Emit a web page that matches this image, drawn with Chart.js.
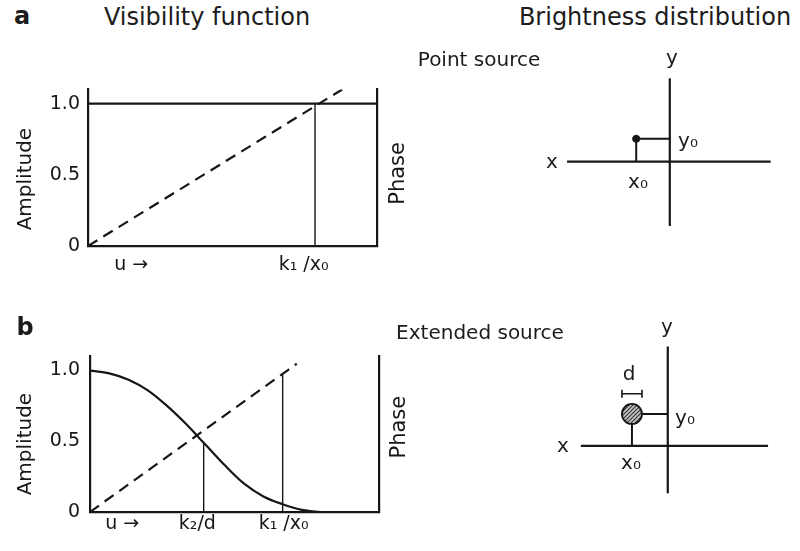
<!DOCTYPE html>
<html>
<head>
<meta charset="utf-8">
<title>Visibility function</title>
<script src="https://cdn.jsdelivr.net/npm/chart.js@4.4.1/dist/chart.umd.min.js"></script>
<style>
  html, body { margin: 0; padding: 0; background: #fff; }
  body { position: relative; width: 800px; height: 551px; overflow: hidden; font-family: 'DejaVu Sans', sans-serif; color: #1c1c1c; }
  canvas { position: absolute; }
  .lbl { position: absolute; white-space: nowrap; line-height: 1; transform: translate(-50%, -50%); }
</style>
</head>
<body>
<canvas id="visA" width="410" height="214" style="left:0;top:70px"></canvas>
<canvas id="visB" width="410" height="215" style="left:0;top:335px"></canvas>
<canvas id="srcA" width="250" height="210" style="left:540px;top:40px"></canvas>
<canvas id="srcB" width="250" height="210" style="left:538px;top:320px"></canvas>
<div id="labels"></div>
<script>
// (a) point source: amplitude flat, phase linear in u
const ampA_u = [0, 1.273];
const ampA = [1.0, 1.0];
const phaseA_u = [0, 1.12];
const phaseA = [0, 1.1];
const markA_u = [1.0];
const markA_top = [1.0];
const xLabelAtA = [0.19, 0.95];
const xLabelsA = ['u →', 'k₁ /x₀'];

// (b) extended source: amplitude falls off with u
const ampB_u = [0, 0.1, 0.2, 0.3, 0.4, 0.5, 0.6, 0.7, 0.8, 0.9, 1.0, 1.1, 1.2, 1.5];
const ampB = [1.0, 0.98, 0.935, 0.86, 0.75, 0.62, 0.475, 0.33, 0.2, 0.11, 0.055, 0.015, 0, 0];
const phaseB_u = [0, 1.073];
const phaseB = [0, 1.048];
const markB_u = [0.59, 1.0];
const markB_top = [0.49, 0.97];
const xLabelAtB = [0.167, 0.557, 1.005];
const xLabelsB = ['u →', 'k₂/d', 'k₁ /x₀'];

const yTicks = [0, 0.5, 1.0];
const yLabels = ['0', '0.5', '1.0'];

// brightness distribution sketches (x, y in arbitrary sky units)
const srcA_xAxis = [-10.7, 10.5];
const srcA_yAxis = [-6.75, 8.75];
const srcA_pos = [-3.5, 2.4];

const srcB_xAxis = [-9.1, 10.5];
const srcB_yAxis = [-5.0, 10.5];
const srcB_pos = [-3.75, 3.37];
const srcB_d = 2.1;
const srcB_dBarY = 5.5;

const INK = '#161616';
const FONT = "'DejaVu Sans', sans-serif";

const pts = (xs, ys) => xs.map((x, i) => ({ x, y: ys[i] }));

function line(data, width, dash) {
    return {
        data, showLine: true, borderColor: INK, borderWidth: width,
        borderDash: dash || [], pointRadius: 0, fill: false
    };
}

// rotated side titles, placed against the y scale
const sideTitles = {
    id: 'sideTitles',
    afterDraw(chart, args, o) {
        const { ctx } = chart;
        const y = chart.scales.y;
        ctx.save();
        ctx.fillStyle = INK;
        ctx.textAlign = 'center';
        ctx.textBaseline = 'middle';
        o.items.forEach(it => {
            ctx.save();
            ctx.font = it.size + 'px ' + FONT;
            ctx.translate(it.x, y.getPixelForValue(it.at));
            ctx.rotate(-Math.PI / 2);
            ctx.fillText(it.text, 0, 0);
            ctx.restore();
        });
        ctx.restore();
    }
};

function visibilityChart(id, o) {
    const datasets = [
        line(pts(o.ampU, o.amp), 2.2),
        line(pts(o.phaseU, o.phase), 2.2, [11, 7]),
        ...o.markU.map((u, i) => line(pts([u, u], [0, o.markTop[i]]), 1.4))
    ];
    return new Chart(document.getElementById(id), {
        type: 'scatter',
        data: { datasets },
        options: {
            responsive: false, animation: false,
            layout: { padding: { top: o.padTop, left: 0, right: 0, bottom: 0 } },
            plugins: {
                legend: { display: false }, tooltip: { enabled: false },
                sideTitles: { items: o.titles }
            },
            elements: { line: { cubicInterpolationMode: 'monotone' } },
            scales: {
                x: {
                    type: 'linear', min: 0, max: o.xMax,
                    grid: { display: false, drawTicks: false },
                    border: { color: INK, width: 2.2 },
                    ticks: {
                        color: INK, font: { family: FONT, size: 19 }, padding: o.xPad,
                        maxRotation: 0, autoSkip: false,
                        callback: (v, i) => o.xLabels[i]
                    },
                    afterBuildTicks: s => { s.ticks = o.xLabelAt.map(v => ({ value: v })); },
                    afterFit: s => { s.height = 38; }
                },
                y: {
                    type: 'linear', position: 'left', min: 0, max: 1.1,
                    grid: { display: false, drawTicks: false },
                    border: { color: INK, width: 2.2 },
                    ticks: {
                        color: INK, font: { family: FONT, size: 19 }, padding: o.yPad,
                        callback: (v, i) => yLabels[i]
                    },
                    afterBuildTicks: s => { s.ticks = yTicks.map(v => ({ value: v })); },
                    afterFit: s => { s.width = o.left; }
                },
                y2: {
                    type: 'linear', position: 'right', min: 0, max: 1.1,
                    grid: { display: false, drawTicks: false },
                    border: { color: INK, width: 2.2 },
                    ticks: { display: false },
                    afterFit: s => { s.width = o.right; }
                }
            }
        },
        plugins: [sideTitles]
    });
}

visibilityChart('visA', {
    ampU: ampA_u, amp: ampA, phaseU: phaseA_u, phase: phaseA,
    markU: markA_u, markTop: markA_top,
    xLabelAt: xLabelAtA, xLabels: xLabelsA,
    xMax: 1.273, padTop: 18, left: 88, right: 33, xPad: 8, yPad: 8,
    titles: [
        { text: 'Amplitude', x: 26, at: 0.47, size: 20 },
        { text: 'Phase', x: 399, at: 0.51, size: 21 }
    ]
});

visibilityChart('visB', {
    ampU: ampB_u, amp: ampB, phaseU: phaseB_u, phase: phaseB,
    markU: markB_u, markTop: markB_top,
    xLabelAt: xLabelAtB, xLabels: xLabelsB,
    xMax: 1.5, padTop: 17, left: 90, right: 31, xPad: 1, yPad: 10,
    titles: [
        { text: 'Amplitude', x: 26, at: 0.48, size: 20 },
        { text: 'Phase', x: 400, at: 0.6, size: 21 }
    ]
});

// hatched fill for the extended source disc
function hatch() {
    const c = document.createElement('canvas');
    c.width = c.height = 4;
    const g = c.getContext('2d');
    g.fillStyle = '#c4c4c4';
    g.fillRect(0, 0, 4, 4);
    g.strokeStyle = '#333';
    g.lineWidth = 1.1;
    g.beginPath();
    g.moveTo(0, 4); g.lineTo(4, 0);
    g.moveTo(-1, 1); g.lineTo(1, -1);
    g.moveTo(3, 5); g.lineTo(5, 3);
    g.stroke();
    return g.createPattern(c, 'repeat');
}

function skyChart(id, range, datasets) {
    return new Chart(document.getElementById(id), {
        type: 'scatter',
        data: { datasets },
        options: {
            responsive: false, animation: false,
            layout: { padding: 0 },
            plugins: { legend: { display: false }, tooltip: { enabled: false } },
            scales: {
                x: { type: 'linear', display: false, min: range[0], max: range[1] },
                y: { type: 'linear', display: false, min: range[2], max: range[3] }
            }
        }
    });
}

const [ax, ay] = srcA_pos;
skyChart('srcA', [-13, 12, -8.75, 12.25], [
    line(pts(srcA_xAxis, [0, 0]), 2.2),
    line(pts([0, 0], srcA_yAxis), 2.2),
    line(pts([ax, ax, 0], [0, ay, ay]), 2),
    { data: pts([ax], [ay]), pointRadius: 3.6, pointBackgroundColor: INK, pointBorderColor: INK, showLine: false }
]);

const [bx, by] = srcB_pos;
const r = srcB_d / 2;
skyChart('srcB', [-13, 12, -8.3, 12.7], [
    line(pts(srcB_xAxis, [0, 0]), 2.2),
    line(pts([0, 0], srcB_yAxis), 2.2),
    line(pts([bx, bx], [0, by - r]), 2),
    line(pts([bx + r, 0], [by, by]), 2),
    {
        data: pts([bx - r, bx + r], [srcB_dBarY, srcB_dBarY]), showLine: true,
        borderColor: INK, borderWidth: 1.6,
        pointStyle: 'line', rotation: 90, pointRadius: 4,
        pointBorderColor: INK, pointBorderWidth: 1.6
    },
    {
        data: pts([bx], [by]), showLine: false,
        pointRadius: c => {
            const s = c.chart.scales.x;
            return Math.abs(s.getPixelForValue(r) - s.getPixelForValue(0));
        },
        pointBackgroundColor: hatch(), pointBorderColor: INK, pointBorderWidth: 1.8
    }
]);

// free text: panel letters, headings and sketch labels
const labels = [
    ['a', 22, 16, 24, 'bold'],
    ['Visibility function', 207, 17, 24],
    ['Brightness distribution', 655, 17, 24],
    ['Point source', 479, 59, 20],
    ['b', 25, 327, 24, 'bold'],
    ['Extended source', 480, 332, 20],
    ['y', 672, 57, 20],
    ['x', 552, 161, 20],
    ['y₀', 688, 140, 20],
    ['x₀', 638, 181, 20],
    ['y', 667, 326, 20],
    ['x', 563, 445, 20],
    ['y₀', 685, 417, 20],
    ['x₀', 631, 462, 20],
    ['d', 629, 373, 20]
];
const host = document.getElementById('labels');
labels.forEach(([text, x, y, size, weight]) => {
    const el = document.createElement('div');
    el.className = 'lbl';
    el.textContent = text;
    el.style.left = x + 'px';
    el.style.top = y + 'px';
    el.style.fontSize = size + 'px';
    if (weight) el.style.fontWeight = weight;
    host.appendChild(el);
});
</script>
</body>
</html>
